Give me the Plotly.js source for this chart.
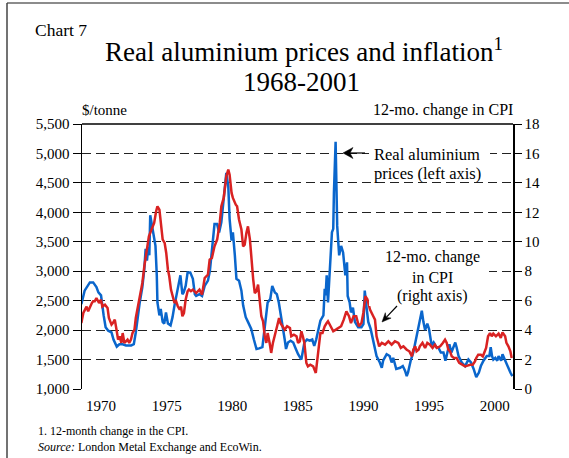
<!DOCTYPE html>
<html>
<head>
<meta charset="utf-8">
<script src="https://cdn.plot.ly/plotly-3.0.1.min.js"></script>
<style>
html,body{margin:0;padding:0;background:#fff;}
#chart{width:569px;height:458px;}
</style>
</head>
<body>
<div id="chart"></div>
<script>
// Real aluminium price ($/tonne, left axis)
const alYears = [1968.5,1968.75,1969.15,1969.4,1969.65,1969.8,1970.0,1970.08,1970.2,1970.35,1970.55,1970.8,1970.95,1971.2,1971.4,1971.65,1971.9,1972.3,1972.5,1972.65,1972.8,1972.95,1973.15,1973.3,1973.4,1973.5,1973.6,1973.68,1973.75,1973.85,1974.0,1974.15,1974.25,1974.3,1974.45,1974.55,1974.7,1974.82,1974.95,1975.1,1975.3,1975.45,1975.6,1975.7,1975.95,1976.05,1976.2,1976.3,1976.45,1976.6,1976.8,1977.0,1977.15,1977.25,1977.5,1977.7,1977.9,1978.15,1978.3,1978.5,1978.65,1978.85,1979.0,1979.17,1979.35,1979.55,1979.7,1979.8,1979.95,1980.05,1980.2,1980.32,1980.52,1980.7,1980.83,1981.03,1981.2,1981.35,1981.45,1981.65,1981.85,1982.05,1982.3,1982.4,1982.55,1982.7,1982.9,1983.05,1983.25,1983.4,1983.55,1983.75,1983.87,1984.0,1984.1,1984.25,1984.45,1984.65,1984.85,1985.02,1985.27,1985.4,1985.5,1985.7,1985.9,1986.1,1986.25,1986.4,1986.55,1986.72,1986.95,1987.05,1987.12,1987.2,1987.3,1987.4,1987.5,1987.6,1987.7,1987.75,1987.88,1987.95,1988.0,1988.15,1988.3,1988.45,1988.55,1988.62,1988.75,1988.8,1988.95,1989.05,1989.2,1989.35,1989.6,1989.85,1990.0,1990.1,1990.25,1990.37,1990.55,1990.75,1991.0,1991.25,1991.4,1991.5,1991.77,1992.0,1992.15,1992.27,1992.5,1992.8,1993.0,1993.17,1993.3,1993.4,1993.6,1993.8,1994.05,1994.27,1994.45,1994.57,1994.7,1994.87,1995.0,1995.2,1995.35,1995.55,1995.7,1995.9,1996.1,1996.25,1996.35,1996.55,1996.7,1996.9,1997.0,1997.1,1997.25,1997.5,1997.75,1998.0,1998.2,1998.4,1998.6,1998.8,1998.95,1999.15,1999.4,1999.6,1999.7,1999.8,1999.9,2000.05,2000.2,2000.3,2000.5,2000.6,2000.8,2001.0,2001.2,2001.35];
const alPrice = [2440,2670,2810,2810,2730,2640,2590,2420,2250,2050,1990,1960,1840,1720,1760,1760,1740,1740,1760,1960,2240,2470,2730,3040,3380,3180,3410,3270,3950,3800,3580,3430,2930,2470,2250,2360,2140,2110,2300,2110,2080,2220,2420,2530,2810,2930,2610,2640,2750,2980,2980,2870,2610,2580,2610,2580,2750,2840,3010,3430,3800,3800,3660,3830,4250,4670,4440,3890,3520,3660,3270,2870,2840,2670,2420,2220,2140,2050,2020,1840,1680,1690,1710,1900,2140,2470,2530,2750,2640,2610,2470,2220,2020,1840,1680,1790,1820,1790,1680,1590,1500,1680,1790,1840,1820,1840,1730,1840,2020,2160,2250,2700,2590,2930,2470,2930,3270,3660,3720,4330,5200,4610,3770,3270,3430,3320,3100,2930,3150,2580,2470,2300,2380,2140,2050,2050,2100,2670,2360,2140,2020,1790,1560,1450,1360,1480,1590,1560,1450,1530,1340,1360,1390,1310,1220,1280,1480,1620,1900,2140,2330,2140,2000,2110,2020,1740,1790,1710,1710,1620,1620,1480,1560,1760,1620,1740,1790,1710,1560,1450,1390,1500,1450,1340,1200,1280,1390,1480,1560,1560,1710,1560,1500,1530,1480,1560,1480,1590,1480,1390,1280,1220];

// 12-month change in CPI (%, right axis)
const cpiYears = [1968.5,1968.65,1968.78,1968.9,1969.02,1969.15,1969.3,1969.4,1969.52,1969.65,1969.85,1970.0,1970.1,1970.3,1970.5,1970.6,1970.8,1970.9,1971.05,1971.2,1971.3,1971.42,1971.55,1971.65,1971.78,1971.9,1972.02,1972.15,1972.28,1972.4,1972.55,1972.65,1972.8,1972.95,1973.15,1973.3,1973.5,1973.65,1973.85,1974.05,1974.2,1974.3,1974.45,1974.6,1974.7,1974.85,1974.97,1975.1,1975.2,1975.33,1975.45,1975.6,1975.72,1975.85,1976.0,1976.1,1976.2,1976.32,1976.45,1976.6,1976.7,1976.85,1977.0,1977.25,1977.5,1977.7,1977.9,1978.15,1978.28,1978.45,1978.65,1978.85,1979.05,1979.17,1979.35,1979.55,1979.7,1979.8,1979.95,1980.05,1980.27,1980.37,1980.52,1980.7,1980.83,1980.95,1981.08,1981.2,1981.35,1981.45,1981.6,1981.72,1981.85,1981.97,1982.1,1982.22,1982.35,1982.48,1982.6,1982.7,1982.85,1982.97,1983.1,1983.25,1983.42,1983.57,1983.67,1983.83,1984.0,1984.18,1984.4,1984.5,1984.7,1984.9,1985.02,1985.15,1985.27,1985.38,1985.5,1985.65,1985.77,1985.95,1986.17,1986.37,1986.47,1986.62,1986.72,1986.88,1987.05,1987.2,1987.3,1987.5,1987.7,1987.9,1988.08,1988.3,1988.5,1988.7,1988.9,1989.05,1989.25,1989.45,1989.65,1989.85,1990.0,1990.15,1990.3,1990.5,1990.75,1990.88,1991.0,1991.2,1991.4,1991.65,1991.9,1992.15,1992.4,1992.66,1992.85,1993.05,1993.3,1993.5,1993.7,1993.8,1993.95,1994.05,1994.2,1994.3,1994.5,1994.7,1994.87,1995.07,1995.27,1995.45,1995.6,1995.85,1996.05,1996.22,1996.35,1996.47,1996.6,1996.73,1996.9,1997.1,1997.3,1997.5,1997.75,1997.93,1998.13,1998.33,1998.5,1998.6,1998.75,1998.95,1999.1,1999.2,1999.35,1999.5,1999.65,1999.78,1999.9,2000.1,2000.3,2000.47,2000.6,2000.8,2000.9,2001.05,2001.2,2001.3];
const cpiChange = [4.48,5.16,5.39,5.6,5.28,5.6,5.84,5.96,5.96,6.18,5.84,6.07,5.6,5.73,5.5,4.82,4.37,4.48,4.71,3.92,3.35,3.58,3.13,3.8,3.13,3.24,3.35,3.13,3.35,3.8,4.03,4.82,5.5,6.07,7.2,8.33,9.47,10.37,10.83,11.28,12.07,12.41,12.19,11.05,10.15,9.92,9.24,8.1,7.66,6.75,6.3,5.84,5.96,5.62,5.39,5.6,4.94,5.16,6.07,6.64,6.75,6.64,6.75,6.52,6.75,6.41,7.54,7.77,8.79,8.9,9.69,10.15,11.28,12.41,12.98,14.45,14.9,14.56,13.32,12.98,12.52,12.41,11.5,10.83,9.69,9.8,10.6,11.05,10.15,8.79,7.43,6.52,6.64,7.09,6.07,4.94,4.6,3.58,3.13,3.8,3.13,2.45,3.13,3.58,4.26,4.82,4.48,4.26,4.03,4.26,4.14,3.58,3.69,3.58,3.13,3.24,3.92,3.58,3.13,1.77,1.54,1.65,1.54,1.09,1.77,3.13,3.8,3.8,4.26,4.48,4.6,4.26,3.92,4.03,4.14,4.26,4.71,5.28,4.94,4.48,4.94,4.94,4.26,4.48,5.2,6.3,6.1,5.39,4.94,4.71,3.58,2.9,3.13,3.01,3.24,3.01,3.24,3.13,2.79,2.9,2.67,2.56,2.22,2.67,2.9,2.56,2.67,2.9,3.13,2.79,3.13,3.01,2.79,3.01,2.79,2.9,3.13,3.35,3.13,2.67,2.56,2.22,2.11,2.11,1.77,1.65,1.54,1.59,1.65,1.65,1.88,2.11,2.33,2.33,2.22,2.45,2.79,3.58,3.8,3.58,3.76,3.58,3.76,3.47,3.85,3.58,3.13,2.9,2.56,2.11];

const xTicks = [1970,1975,1980,1985,1990,1995,2000];
const xTickText = ['1970','1975','1980','1985','1990','1995','2000'];
const leftTicks = [1000,1500,2000,2500,3000,3500,4000,4500,5000,5500];
const rightTicks = [0,2,4,6,8,10,12,14,16,18];

// pixel -> paper helpers (plot area 82..513 x 124..389)
const L = 82, R = 513, T = 124, B = 389;
const px = x => (x - L) / (R - L);
const py = y => (B - y) / (B - T);

const FONT = 'Liberation Serif, Times New Roman, serif';

const traces = [
  {x: cpiYears, y: cpiChange, yaxis: 'y2', type: 'scatter', mode: 'lines',
   line: {color: '#D92222', width: 2.5}, hoverinfo: 'skip'},
  {x: alYears, y: alPrice, type: 'scatter', mode: 'lines',
   line: {color: '#0A66CC', width: 2.5}, hoverinfo: 'skip'}
];

function txt(text, x, y, xanchor, size, extra) {
  return Object.assign({text: text, xref: 'paper', yref: 'paper', x: px(x), y: py(y),
    xanchor: xanchor, yanchor: 'middle', showarrow: false,
    font: {family: FONT, size: size, color: '#000'}}, extra || {});
}
function whiteBox(x0, x1, y0, y1) {
  return {type: 'rect', xref: 'paper', yref: 'paper', layer: 'above',
    x0: px(x0), x1: px(x1), y0: py(y1), y1: py(y0),
    fillcolor: '#fff', line: {width: 0}};
}
function segLine(x0, y0, x1, y1) {
  return {type: 'line', xref: 'paper', yref: 'paper', layer: 'above',
    x0: px(x0), y0: py(y0), x1: px(x1), y1: py(y1), line: {color: '#000', width: 1.2}};
}
function poly(points) {
  const d = points.map((p, i) => (i ? 'L' : 'M') + px(p[0]).toFixed(5) + ',' + py(p[1]).toFixed(5)).join(' ') + ' Z';
  return {type: 'path', xref: 'paper', yref: 'paper', layer: 'above', path: d,
    fillcolor: '#000', line: {color: '#000', width: 0.5}};
}

const layout = {
  width: 569, height: 458,
  margin: {l: L, r: 569 - R, t: T, b: 458 - B},
  paper_bgcolor: '#fff', plot_bgcolor: 'rgba(0,0,0,0)',
  showlegend: false,
  font: {family: FONT, size: 15, color: '#000'},
  xaxis: {range: [1968.55, 2001.4], tickvals: xTicks, ticktext: xTickText,
    showgrid: false, zeroline: false, showline: false, ticks: '',
    ticklabelstandoff: 6,
    tickfont: {family: FONT, size: 15, color: '#000'}},
  yaxis: {range: [1000, 5500], tickvals: leftTicks, tickformat: ',d',
    showgrid: true, gridcolor: '#222', gridwidth: 1, griddash: '9px,5px',
    zeroline: false, showline: true, linecolor: '#000', linewidth: 1.5,
    ticks: 'outside', ticklen: 8, tickcolor: '#000', tickwidth: 1,
    tickfont: {family: FONT, size: 15, color: '#000'}},
  yaxis2: {range: [0, 18], tickvals: rightTicks, overlaying: 'y', side: 'right',
    showgrid: false, zeroline: false, showline: true, linecolor: '#000', linewidth: 1.5,
    ticks: 'outside', ticklen: 7, tickcolor: '#000', tickwidth: 1,
    tickfont: {family: FONT, size: 15, color: '#000'}},
  shapes: [
    whiteBox(369, 490, 144, 179),
    whiteBox(369, 489, 246, 306),
    {type: 'line', xref: 'paper', yref: 'paper', x0: 0, x1: 1, y0: 1, y1: 1,
     line: {color: '#000', width: 1.5}},
    {type: 'line', xref: 'paper', yref: 'paper', x0: px(7), x1: px(569), y0: py(3), y1: py(3),
     line: {color: '#666', width: 1.5}},
    {type: 'line', xref: 'paper', yref: 'paper', x0: px(7), x1: px(7), y0: py(3), y1: py(458),
     line: {color: '#444', width: 1.5}},
    // arrow to the aluminium series
    segLine(348, 153, 365, 153),
    poly([[343, 153], [353, 147.5], [350, 153], [353, 158.5]]),
    // arrow to the CPI series
    segLine(386, 317.6, 397, 306),
    poly([[382, 322], [391.1, 318.1], [386.1, 317.6], [385.3, 312.7]])
  ],
  annotations: [
    txt('Chart 7', 33, 30, 'left', 17.5),
    txt('Real aluminium prices and inflation<sup>1</sup>', 304, 50, 'center', 27),
    txt('1968-2001', 301, 82, 'center', 27),
    txt('$/tonne', 80, 110, 'left', 15),
    txt('12-mo. change in CPI', 515, 110, 'right', 16),
    txt('Real aluminium', 372, 154, 'left', 16.5),
    txt('prices (left axis)', 372, 173, 'left', 16.5),
    txt('12-mo. change', 432, 257, 'center', 16),
    txt('in CPI', 432, 277, 'center', 16),
    txt('(right axis)', 432, 296, 'center', 16),
    txt('1. 12-month change in the CPI.', 36, 431, 'left', 12),
    txt('<i>Source:</i> London Metal Exchange and EcoWin.', 36, 447, 'left', 12)
  ]
};

Plotly.newPlot('chart', traces, layout, {staticPlot: true, displayModeBar: false});
</script>
</body>
</html>
